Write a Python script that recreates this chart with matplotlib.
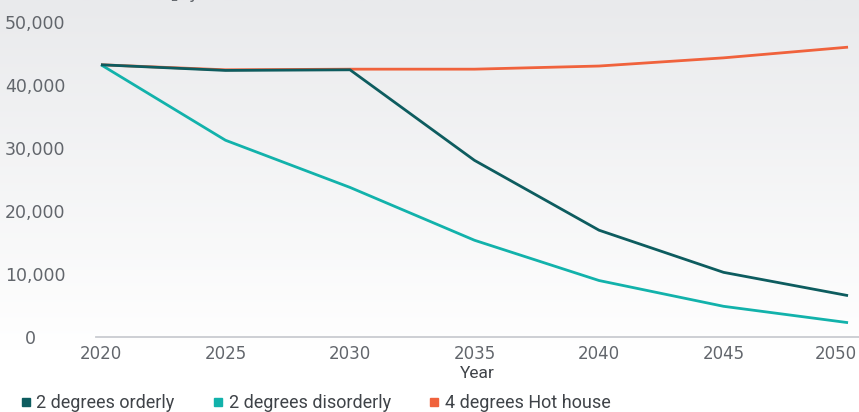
import numpy as np
import matplotlib
matplotlib.use("Agg")
import matplotlib.pyplot as plt
from matplotlib.lines import Line2D
from matplotlib.transforms import ScaledTranslation

# Data
years = [2020, 2025, 2030, 2035, 2040, 2045, 2050]
orderly = [43200, 42300, 42400, 28000, 16900, 10200, 6500]
disorderly = [43200, 31200, 23700, 15300, 8900, 4800, 2200]
hot_house = [43200, 42400, 42500, 42500, 43000, 44300, 46000]
series_names = ['2 degrees orderly', '2 degrees disorderly', '4 degrees Hot house']
yticks = [0, 10000, 20000, 30000, 40000, 50000]

c_orderly = '#0d5c5f'
c_disorderly = '#12b2ab'
c_hot = '#f0623c'
c_text = '#62666c'

W, H = 859, 412
fig = plt.figure(figsize=(W / 100, H / 100), dpi=100)

# Soft grey-to-white background gradient
bg = fig.add_axes([0, 0, 1, 1], zorder=-10)
grad = np.linspace(0, 1, 256).reshape(-1, 1)
grad = np.clip(grad / 0.85, 0, 1)
top = np.array([233, 234, 236]) / 255
bottom = np.array([255, 255, 255]) / 255
img = top[None, None, :] * (1 - grad[:, :, None]) + bottom[None, None, :] * grad[:, :, None]
bg.imshow(img, aspect='auto', extent=[0, 1, 0, 1])
bg.axis('off')

# Main axes: left at x=96px, right at figure edge, y=0 at 336.5px, 50k at 22px
left, right = 96, 859
y0, y50 = 336.5, 22
ax = fig.add_axes([left / W, 1 - y0 / H, (right - left) / W, (y0 - y50) / H])
ax.patch.set_alpha(0)

ax.plot(years, hot_house, color=c_hot, lw=2.0, solid_capstyle='butt', zorder=3)
ax.plot(years, disorderly, color=c_disorderly, lw=2.0, solid_capstyle='butt', zorder=4)
ax.plot(years, orderly, color=c_orderly, lw=2.0, solid_capstyle='butt', zorder=5)

ax.set_xlim(2019.8, 2050.44)
ax.set_ylim(0, 50000)
ax.set_xticks(years)
ax.set_yticks(yticks)
ax.set_yticklabels([f'{v:,}' for v in yticks])

for s in ['top', 'right', 'left']:
    ax.spines[s].set_visible(False)
ax.spines['bottom'].set_color('#c9ccd1')
ax.spines['bottom'].set_linewidth(1.3)
ax.tick_params(axis='both', length=0, colors=c_text)
ax.tick_params(axis='x', labelsize=12, pad=6)
ax.tick_params(axis='y', labelsize=12.5, pad=22)

# Nudge the last x label so it fits inside the canvas, and the 0 label left
xlabels = ax.get_xticklabels()
xlabels[-1].set_transform(xlabels[-1].get_transform() +
                          ScaledTranslation(-0.12, 0, fig.dpi_scale_trans))
ylabels = ax.get_yticklabels()
ylabels[0].set_transform(ylabels[0].get_transform() +
                         ScaledTranslation(-0.30, 0, fig.dpi_scale_trans))

ax.set_xlabel('Year', fontsize=12.5, color='#3f4348', labelpad=2,
              family=['Roboto', 'DejaVu Sans'])

# Unit title, mostly cut off at the top of the image
fig.text(53 / W, 1 + 2 / H, 'Kilotonnes CO$_2$, year', fontsize=12,
         color=c_text, va='baseline', ha='left')

handles = [Line2D([], [], ls='none', marker='s', ms=6, color=c)
           for c in (c_orderly, c_disorderly, c_hot)]
fig.legend(handles, series_names, loc='center left', ncol=3,
           bbox_to_anchor=(21 / W, 1 - 403 / H), frameon=False,
           borderpad=0, borderaxespad=0,
           handlelength=0.5, handletextpad=0.35, columnspacing=2.15,
           prop={'family': ['Roboto', 'DejaVu Sans'], 'size': 13},
           labelcolor='#3f4348')

fig.savefig('out.png', dpi=100)
